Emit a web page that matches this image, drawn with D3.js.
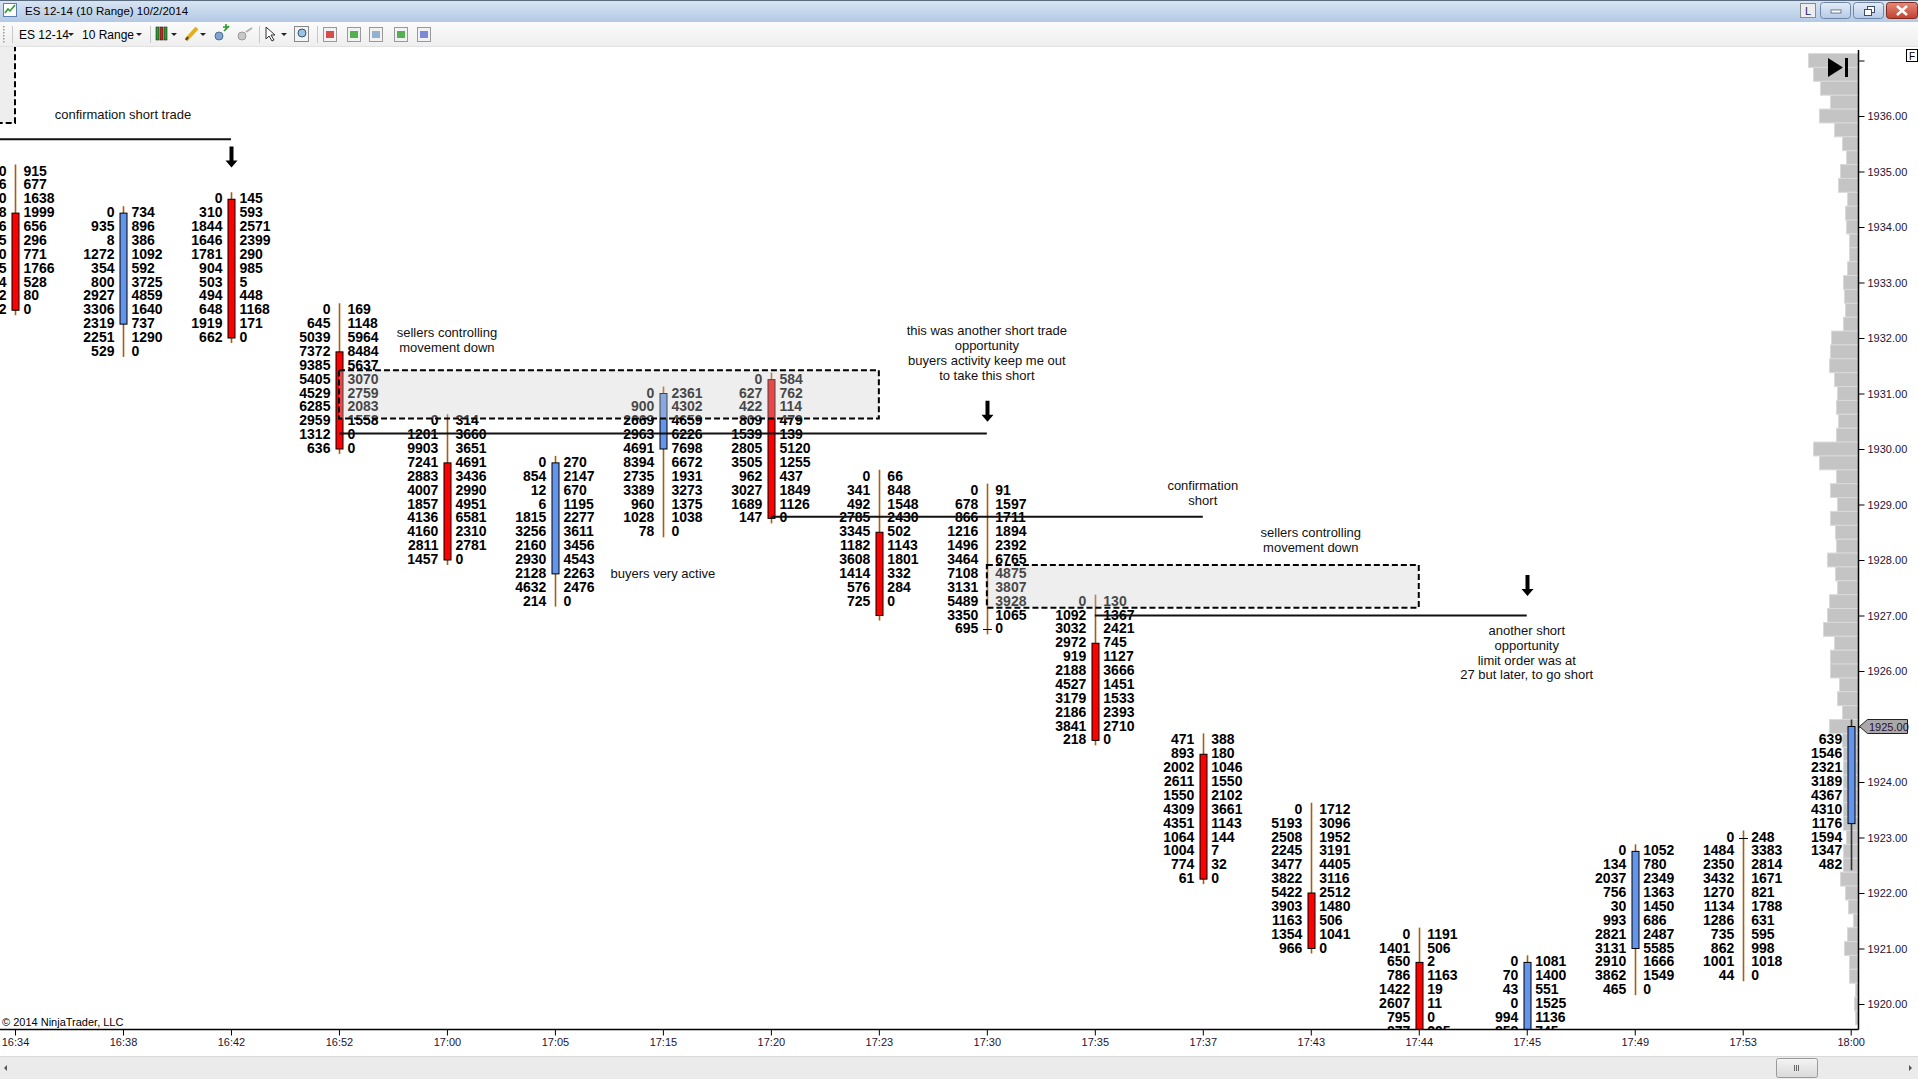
<!DOCTYPE html>
<html>
<head>
<meta charset="utf-8">
<title>ES 12-14 (10 Range) 10/2/2014</title>
<script src="https://cdn.jsdelivr.net/npm/d3@7"></script>
<style>
html, body { margin: 0; padding: 0; background: #fff; overflow: hidden; }
svg { display: block; font-family: "Liberation Sans", Arial, sans-serif; }
.num { font-size: 14px; font-weight: bold; fill: #000; }
.note { font-size: 13px; fill: #111; }
.xAxis text, .yAxis text { font-size: 11px; fill: #1f1233; font-family: "Liberation Sans", Arial, sans-serif; }
.xAxis line, .yAxis line { stroke: #000; }
</style>
</head>
<body>
<div id="chart"></div>
<script>
var WIDTH = 1918, HEIGHT = 1079;
var PLOT = {left: 0, right: 1858.5, top: 47, bottom: 1029.5};
var TICK = 0.25;

/* Bars (10 range, one tick = 0.25) */
var times  = ["16:34","16:38","16:42","16:52","17:00","17:05","17:15","17:20","17:23",
              "17:30","17:35","17:37","17:43","17:44","17:45","17:49","17:53","18:00"];
var highs  = [1935.00, 1934.25, 1934.50, 1932.50, 1930.50, 1929.75, 1931.00, 1931.25, 1929.50,
              1929.25, 1927.25, 1924.75, 1923.50, 1921.25, 1920.75, 1922.75, 1923.00, 1925.00];
var lows   = [1932.50, 1931.75, 1932.00, 1930.00, 1928.00, 1927.25, 1928.50, 1928.75, 1927.00,
              1926.75, 1924.75, 1922.25, 1921.00, 1918.75, 1918.25, 1920.25, 1920.50, 1922.50];
var opens  = [1934.25, 1932.25, 1934.50, 1931.75, 1929.75, 1927.75, 1930.00, 1931.25, 1928.50,
              1926.75, 1926.50, 1924.50, 1922.00, 1920.75, 1919.00, 1921.00, 1923.00, 1923.25];
var closes = [1932.50, 1934.25, 1932.00, 1930.00, 1928.00, 1929.75, 1931.00, 1928.75, 1927.00,
              1926.75, 1924.75, 1922.25, 1921.00, 1919.25, 1920.75, 1922.75, 1923.00, 1925.00];

/* Footprint volumes, one row per tick from the high downwards */
var bids = [
    [0, 1046, 2310, 1768, 856, 1235, 940, 1875, 1224, 612, 382],
    [0, 935, 8, 1272, 354, 800, 2927, 3306, 2319, 2251, 529],
    [0, 310, 1844, 1646, 1781, 904, 503, 494, 648, 1919, 662],
    [0, 645, 5039, 7372, 9385, 5405, 4529, 6285, 2959, 1312, 636],
    [0, 1201, 9903, 7241, 2883, 4007, 1857, 4136, 4160, 2811, 1457],
    [0, 854, 12, 6, 1815, 3256, 2160, 2930, 2128, 4632, 214],
    [0, 900, 2669, 2963, 4691, 8394, 2735, 3389, 960, 1028, 78],
    [0, 627, 422, 809, 1539, 2805, 3505, 962, 3027, 1689, 147],
    [0, 341, 492, 2785, 3345, 1182, 3608, 1414, 576, 725],
    [0, 678, 866, 1216, 1496, 3464, 7108, 3131, 5489, 3350, 695],
    [0, 1092, 3032, 2972, 919, 2188, 4527, 3179, 2186, 3841, 218],
    [471, 893, 2002, 2611, 1550, 4309, 4351, 1064, 1004, 774, 61],
    [0, 5193, 2508, 2245, 3477, 3822, 5422, 3903, 1163, 1354, 966],
    [0, 1401, 650, 786, 1422, 2607, 795, 877],
    [0, 70, 43, 0, 994, 858],
    [0, 134, 2037, 756, 30, 993, 2821, 3131, 2910, 3862, 465],
    [0, 1484, 2350, 3432, 1270, 1134, 1286, 735, 862, 1001, 44],
    [null, 639, 1546, 2321, 3189, 4367, 4310, 1176, 1594, 1347, 482]
];
var asks = [
    [915, 677, 1638, 1999, 656, 296, 771, 1766, 528, 80, 0],
    [734, 896, 386, 1092, 592, 3725, 4859, 1640, 737, 1290, 0],
    [145, 593, 2571, 2399, 290, 985, 5, 448, 1168, 171, 0],
    [169, 1148, 5964, 8484, 5637, 3070, 2759, 2083, 1558, 0, 0],
    [314, 3660, 3651, 4691, 3436, 2990, 4951, 6581, 2310, 2781, 0],
    [270, 2147, 670, 1195, 2277, 3611, 3456, 4543, 2263, 2476, 0],
    [2361, 4302, 4659, 6226, 7698, 6672, 1931, 3273, 1375, 1038, 0],
    [584, 762, 114, 479, 139, 5120, 1255, 437, 1849, 1126, 0],
    [66, 848, 1548, 2430, 502, 1143, 1801, 332, 284, 0],
    [91, 1597, 1711, 1894, 2392, 6765, 4875, 3807, 3928, 1065, 0],
    [130, 1367, 2421, 745, 1127, 3666, 1451, 1533, 2393, 2710, 0],
    [388, 180, 1046, 1550, 2102, 3661, 1143, 144, 7, 32, 0],
    [1712, 3096, 1952, 3191, 4405, 3116, 2512, 1480, 506, 1041, 0],
    [1191, 506, 2, 1163, 19, 11, 0, 295],
    [1081, 1400, 551, 1525, 1136, 745],
    [1052, 780, 2349, 1363, 1450, 686, 2487, 5585, 1666, 1549, 0],
    [248, 3383, 2814, 1671, 821, 1788, 631, 595, 998, 1018, 0],
    []
];

/* Volume profile (relative), one row per tick from profileTop downwards */
var profileTop = 1937.00;
var profileVol = [50, 45, 38, 28, 39, 24, 16, 12, 18, 20, 11, 13, 12, 9, 9, 11, 15, 14, 13, 15,
                  27, 28, 29, 24, 21, 22, 20, 22, 45, 39, 22, 28, 21, 28, 23, 22, 31, 23, 21, 29,
                  31, 35, 24, 28, 28, 19, 21, 16, 29, 16, 15, 15, 15, 15, 15, 15, 12, 15, 15, 18,
                  13, 10, 5, 11, 14, 9, 9, 3, 4, 3];

/* Price axis */
var priceTicks = d3.range(1920, 1938);
var lastPrice = 1925.00;

/* Drawn annotations (slot index on the time axis, price) */
var lineSlots   = [[-1, 2], [3, 9], [7, 11], [10, 14]];
var linePrices  = [1935.58, 1930.28, 1928.78, 1927.00];
var boxSlots    = [[-2, 0], [3, 8], [9, 13]];
var boxPrices   = [[1937.6, 1935.875], [1931.42, 1930.55], [1927.91, 1927.14]];
var arrowSlots  = [2, 9, 14];
var arrowPrices = [1935.07, 1930.49, 1927.35];
var noteSlots   = [1, 4, 9, 6, 11, 12, 14];
var notePrices  = [1936.03, 1932.10, 1932.13, 1927.76, 1929.34, 1928.49, 1926.73];
var noteLines   = [
    ["confirmation short trade"],
    ["sellers controlling", "movement down"],
    ["this was another short trade", "opportunity", "buyers activity keep me out", "to take this short"],
    ["buyers very active"],
    ["confirmation", "short"],
    ["sellers controlling", "movement down"],
    ["another short", "opportunity", "limit order was at", "27 but later, to go short"]
];

/* SVG */
var svg = d3.select("#chart")
    .append("svg")
        .attr("width", WIDTH)
        .attr("height", HEIGHT);
var defs = svg.append("defs");

function grad(id, c1, c2){
    var g = defs.append("linearGradient").attr("id", id)
        .attr("x1", 0).attr("y1", 0).attr("x2", 0).attr("y2", 1);
    g.append("stop").attr("offset", "0%").attr("stop-color", c1);
    g.append("stop").attr("offset", "100%").attr("stop-color", c2);
}
grad("gTitle", "#D9E5F3", "#B3C9E5");
grad("gTool", "#FBFBFB", "#EEEEEE");
grad("gBtn", "#E4EDF8", "#B4C9E4");
grad("gClose", "#E58A7A", "#C2412F");
grad("gThumb", "#F4F4F4", "#D9D9D9");

defs.append("clipPath").attr("id", "plotClip")
    .append("rect")
        .attr("x", PLOT.left).attr("y", PLOT.top)
        .attr("width", PLOT.right - PLOT.left).attr("height", PLOT.bottom - PLOT.top);

/* Scales */
var x = d3.scalePoint()
    .domain(times)
    .range([15, 1850.7]);
function slotX(i){ return x(times[0]) + i * x.step(); }
var y = d3.scaleLinear()
    .domain([1920, 1936])
    .range([1004, 116]);
var rowH = Math.abs(y(1920) - y(1920 + TICK));
var vol = d3.scaleLinear()
    .domain([0, 50])
    .range([0, 50]);

/* Window chrome */
svg.append("rect").attr("x", 0).attr("y", 0).attr("width", WIDTH).attr("height", 22)
    .attr("fill", "url(#gTitle)");
svg.append("line").attr("x1", 0).attr("x2", WIDTH).attr("y1", 0.5).attr("y2", 0.5)
    .attr("stroke", "#5a6b80");
svg.append("rect").attr("x", 3.5).attr("y", 3.5).attr("width", 13).attr("height", 13)
    .attr("fill", "#fff").attr("stroke", "#5d7fb0");
svg.append("polyline").attr("points", "5,13 8,9 10,11 15,5")
    .attr("fill", "none").attr("stroke", "#2a9a2a").attr("stroke-width", 1.5);
svg.append("text").attr("x", 25).attr("y", 15)
    .style("font-size", "11.5px").attr("fill", "#000")
    .text("ES 12-14 (10 Range)  10/2/2014");

/* Window buttons */
svg.append("rect").attr("x", 1800.5).attr("y", 3.5).attr("width", 15).attr("height", 14)
    .attr("fill", "#EDEDED").attr("stroke", "#8a8a8a");
svg.append("text").attr("x", 1808).attr("y", 15).attr("text-anchor", "middle")
    .style("font-size", "11px").attr("fill", "#1a1a60").text("L");
[[1820.5, "min"], [1853.5, "max"]].forEach(function(b){
    svg.append("rect").attr("x", b[0]).attr("y", 2.5).attr("width", 30).attr("height", 16).attr("rx", 3)
        .attr("fill", "url(#gBtn)").attr("stroke", "#6f86a6");
});
svg.append("rect").attr("x", 1831).attr("y", 10).attr("width", 10).attr("height", 3)
    .attr("fill", "#fff").attr("stroke", "#3c4e66").attr("stroke-width", 0.7);
svg.append("rect").attr("x", 1867.5).attr("y", 6.5).attr("width", 7).attr("height", 6)
    .attr("fill", "#fff").attr("stroke", "#3c4e66");
svg.append("rect").attr("x", 1864.5).attr("y", 9.5).attr("width", 7).attr("height", 6)
    .attr("fill", "#fff").attr("stroke", "#3c4e66");
svg.append("rect").attr("x", 1886.5).attr("y", 2.5).attr("width", 31).attr("height", 16).attr("rx", 3)
    .attr("fill", "url(#gClose)").attr("stroke", "#7d2a20");
svg.append("path").attr("d", "M1897,6 L1907,15 M1907,6 L1897,15")
    .attr("stroke", "#fff").attr("stroke-width", 2.5);

/* Toolbar */
svg.append("rect").attr("x", 0).attr("y", 22).attr("width", WIDTH).attr("height", 24.5)
    .attr("fill", "url(#gTool)");
svg.append("line").attr("x1", 0).attr("x2", WIDTH).attr("y1", 46.5).attr("y2", 46.5)
    .attr("stroke", "#E2E2E2");
d3.range(6).forEach(function(k){
    svg.append("rect").attr("x", 3).attr("y", 26 + k * 3).attr("width", 1.5).attr("height", 1.5)
        .attr("fill", "#9a9a9a");
});
[12, 150, 259, 317].forEach(function(sx){
    svg.append("line").attr("x1", sx + 0.5).attr("x2", sx + 0.5).attr("y1", 26).attr("y2", 43)
        .attr("stroke", "#C8C8C8");
});
svg.append("text").attr("x", 19).attr("y", 38.5).style("font-size", "12px").attr("fill", "#000").text("ES 12-14");
svg.append("text").attr("x", 82).attr("y", 38.5).style("font-size", "12px").attr("fill", "#000").text("10 Range");
[71, 139, 174, 203, 284].forEach(function(sx){
    svg.append("path").attr("d", "M" + (sx - 3) + ",33 L" + (sx + 3) + ",33 L" + sx + ",36 Z").attr("fill", "#222");
});
/* toolbar icons (simplified) */
[[156, "#2aa02a"], [160, "#d02020"], [164, "#2aa02a"]].forEach(function(c){
    svg.append("rect").attr("x", c[0]).attr("y", 27).attr("width", 3).attr("height", 13)
        .attr("fill", c[1]).attr("stroke", "#222").attr("stroke-width", 0.6);
});
svg.append("path").attr("d", "M186,40 L197,28").attr("stroke", "#e0b020").attr("stroke-width", 4);
svg.append("path").attr("d", "M186,40 L188,37").attr("stroke", "#444").attr("stroke-width", 2);
svg.append("circle").attr("cx", 219).attr("cy", 36).attr("r", 4).attr("fill", "#7ea6d0").attr("stroke", "#4b6f95");
svg.append("path").attr("d", "M224,31 L229,26 M223,27 L229,27 M226,24 L226,30").attr("stroke", "#2aa02a").attr("stroke-width", 1.6);
svg.append("circle").attr("cx", 242).attr("cy", 36).attr("r", 4).attr("fill", "#c8c8c8").attr("stroke", "#9a9a9a");
svg.append("path").attr("d", "M246,32 L252,28").attr("stroke", "#b0b0b0").attr("stroke-width", 2);
svg.append("path").attr("d", "M266,27 L266,39 L269,36 L272,41 L274,40 L271,35 L275,35 Z")
    .attr("fill", "#fff").attr("stroke", "#333");
svg.append("rect").attr("x", 294.5).attr("y", 26.5).attr("width", 14).attr("height", 15).attr("fill", "#f4f4f4").attr("stroke", "#888");
svg.append("circle").attr("cx", 302).attr("cy", 33).attr("r", 4).attr("fill", "#9cc3e6").attr("stroke", "#356");
[[323, "#d02020"], [347, "#2aa02a"], [369, "#7aa0c8"], [394, "#2aa02a"], [417, "#5b6fd0"]].forEach(function(c){
    svg.append("rect").attr("x", c[0] + 0.5).attr("y", 27.5).attr("width", 13).attr("height", 14)
        .attr("fill", "#f2f2f2").attr("stroke", "#999");
    svg.append("rect").attr("x", c[0] + 3).attr("y", 31).attr("width", 8).attr("height", 7)
        .attr("fill", c[1]).attr("opacity", 0.8);
});

/* Plot background */
svg.append("rect").attr("x", 0).attr("y", 47).attr("width", WIDTH).attr("height", 1010)
    .attr("fill", "#fff");

var plot = svg.append("g").attr("clip-path", "url(#plotClip)");

/* Volume profile */
var profile = profileVol.map(function(v, k){ return {price: profileTop - k * TICK, v: v}; });
plot.selectAll(".prof")
    .data(profile)
    .enter()
    .append("rect")
        .attr("class", "prof")
        .attr("x", function(d) { return PLOT.right - vol(d.v); })
        .attr("y", function(d) { return y(d.price) - rowH / 2; })
        .attr("width", function(d) { return vol(d.v); })
        .attr("height", rowH)
        .attr("fill", "#C4C4C4")
        .attr("stroke", "#D9D9D9")
        .attr("stroke-width", 1);

/* Bars */
var bars = times.map(function(t, i){
    return {t: t, i: i, high: highs[i], low: lows[i], open: opens[i], close: closes[i]};
});

plot.selectAll(".wick")
    .data(bars)
    .enter()
    .append("line")
        .attr("class", "wick")
        .attr("x1", function(d) { return Math.round(x(d.t)) + 0.5; })
        .attr("x2", function(d) { return Math.round(x(d.t)) + 0.5; })
        .attr("y1", function(d) { return y(d.high) - 7; })
        .attr("y2", function(d) { return y(d.low) + 5; })
        .attr("stroke", function(d) { return d.i === times.length - 1 ? "#333" : "#B05A0A"; })
        .attr("stroke-width", 1.6);

plot.selectAll(".body")
    .data(bars.filter(function(d) { return d.open !== d.close; }))
    .enter()
    .append("rect")
        .attr("class", "body")
        .attr("x", function(d) { return Math.round(x(d.t)) - 3; })
        .attr("y", function(d) { return y(Math.max(d.open, d.close)); })
        .attr("width", 7)
        .attr("height", function(d) { return Math.abs(y(d.open) - y(d.close)); })
        .attr("fill", function(d) { return d.close > d.open ? "#6495ED" : "#FF0000"; })
        .attr("stroke", "#000")
        .attr("stroke-width", 1);

plot.selectAll(".doji")
    .data(bars.filter(function(d) { return d.open === d.close; }))
    .enter()
    .append("line")
        .attr("class", "doji")
        .attr("x1", function(d) { return Math.round(x(d.t)) - 4; })
        .attr("x2", function(d) { return Math.round(x(d.t)) + 5; })
        .attr("y1", function(d) { return Math.round(y(d.open)) + 0.5; })
        .attr("y2", function(d) { return Math.round(y(d.open)) + 0.5; })
        .attr("stroke", "#000")
        .attr("stroke-width", 1);

/* Footprint numbers */
var cells = [];
bars.forEach(function(b){
    var n = Math.max(bids[b.i].length, asks[b.i].length);
    for (var j = 0; j < n; j++) {
        cells.push({t: b.t, price: b.high - j * TICK, bid: bids[b.i][j], ask: asks[b.i][j]});
    }
});
plot.selectAll(".bid")
    .data(cells.filter(function(d) { return d.bid !== null && d.bid !== undefined; }))
    .enter()
    .append("text")
        .attr("class", "num bid")
        .attr("x", function(d) { return x(d.t) - 8.5; })
        .attr("y", function(d) { return y(d.price) + 4; })
        .attr("text-anchor", "end")
        .text(function(d) { return d.bid; });
plot.selectAll(".ask")
    .data(cells.filter(function(d) { return d.ask !== null && d.ask !== undefined; }))
    .enter()
    .append("text")
        .attr("class", "num ask")
        .attr("x", function(d) { return x(d.t) + 8.5; })
        .attr("y", function(d) { return y(d.price) + 4; })
        .attr("text-anchor", "start")
        .text(function(d) { return d.ask; });

/* Annotation boxes */
plot.selectAll(".box")
    .data(boxSlots.map(function(s, k){ return {s: s, p: boxPrices[k]}; }))
    .enter()
    .append("rect")
        .attr("class", "box")
        .attr("x", function(d) { return slotX(d.s[0]); })
        .attr("y", function(d) { return y(d.p[0]); })
        .attr("width", function(d) { return slotX(d.s[1]) - slotX(d.s[0]); })
        .attr("height", function(d) { return y(d.p[1]) - y(d.p[0]); })
        .attr("fill", "rgba(205,205,205,0.34)")
        .attr("stroke", "#000")
        .attr("stroke-width", 2)
        .attr("stroke-dasharray", "6,3");

/* Annotation lines */
plot.selectAll(".hline")
    .data(lineSlots.map(function(s, k){ return {s: s, p: linePrices[k]}; }))
    .enter()
    .append("line")
        .attr("class", "hline")
        .attr("x1", function(d) { return slotX(d.s[0]); })
        .attr("x2", function(d) { return slotX(d.s[1]); })
        .attr("y1", function(d) { return y(d.p); })
        .attr("y2", function(d) { return y(d.p); })
        .attr("stroke", "#111")
        .attr("stroke-width", 2);

/* Arrows */
plot.selectAll(".arrow")
    .data(arrowSlots.map(function(s, k){ return {s: s, p: arrowPrices[k]}; }))
    .enter()
    .append("path")
        .attr("class", "arrow")
        .attr("d", function(d) {
            var ax = Math.round(slotX(d.s)) + 0.5, ty = y(d.p);
            return "M" + (ax - 2) + "," + (ty - 21) + " L" + (ax + 2) + "," + (ty - 21) +
                   " L" + (ax + 2) + "," + (ty - 7) + " L" + (ax + 6) + "," + (ty - 7) +
                   " L" + ax + "," + ty + " L" + (ax - 6) + "," + (ty - 7) +
                   " L" + (ax - 2) + "," + (ty - 7) + " Z";
        })
        .attr("fill", "#000");

/* Notes */
var notes = plot.selectAll(".noteg")
    .data(noteSlots.map(function(s, k){ return {s: s, p: notePrices[k], lines: noteLines[k]}; }))
    .enter()
    .append("text")
        .attr("class", "note")
        .attr("text-anchor", "middle")
        .attr("x", function(d) { return slotX(d.s); })
        .attr("y", function(d) { return y(d.p) + 4.5; });
notes.selectAll("tspan")
    .data(function(d) { return d.lines.map(function(l, k){ return {l: l, k: k, x: slotX(d.s)}; }); })
    .enter()
    .append("tspan")
        .attr("x", function(d) { return d.x; })
        .attr("dy", function(d) { return d.k === 0 ? 0 : 14.8; })
        .text(function(d) { return d.l; });

/* Copyright */
svg.append("text").attr("x", 2).attr("y", 1026)
    .style("font-size", "11px").attr("fill", "#000")
    .text("\u00A9 2014 NinjaTrader, LLC");

/* Axes */
var xAxis = d3.axisBottom(x).tickSize(6).tickSizeOuter(0);
var gx = svg.append("g")
    .attr("class", "xAxis")
    .attr("transform", "translate(0," + PLOT.bottom + ")")
    .call(xAxis);
gx.select(".domain").remove();
svg.append("line")
    .attr("x1", 0).attr("x2", PLOT.right)
    .attr("y1", PLOT.bottom).attr("y2", PLOT.bottom)
    .attr("stroke", "#000").attr("stroke-width", 1.5);

var yAxis = d3.axisRight(y)
    .tickValues(priceTicks)
    .tickSize(6)
    .tickFormat(function(d) { return (d > 1936 || d === lastPrice) ? "" : d3.format(".2f")(d); });
var gy = svg.append("g")
    .attr("class", "yAxis")
    .attr("transform", "translate(" + PLOT.right + ",0)")
    .call(yAxis);
gy.select(".domain").remove();
svg.append("line")
    .attr("x1", PLOT.right).attr("x2", PLOT.right)
    .attr("y1", 50).attr("y2", PLOT.bottom)
    .attr("stroke", "#000").attr("stroke-width", 1.5);

/* Last price marker */
var ly = y(lastPrice);
svg.append("path")
    .attr("d", "M" + (PLOT.right + 1) + "," + ly + " L" + (PLOT.right + 9) + "," + (ly - 7) +
               " L1907.5," + (ly - 7) + " L1907.5," + (ly + 7) + " L" + (PLOT.right + 9) + "," + (ly + 7) + " Z")
    .attr("fill", "#A9A9A9").attr("stroke", "#222");
svg.append("text").attr("x", 1869).attr("y", ly + 4)
    .style("font-size", "11px").attr("fill", "#2a0f3a")
    .text(d3.format(".2f")(lastPrice));

/* Go-to-end button and F box */
svg.append("path").attr("d", "M1828,58 L1843,67.5 L1828,77 Z").attr("fill", "#000");
svg.append("rect").attr("x", 1845).attr("y", 58).attr("width", 3).attr("height", 19).attr("fill", "#000");
svg.append("rect").attr("x", 1906.5).attr("y", 49.5).attr("width", 11).attr("height", 12)
    .attr("fill", "#fff").attr("stroke", "#000");
svg.append("text").attr("x", 1912).attr("y", 59.5).attr("text-anchor", "middle")
    .style("font-size", "10px").attr("fill", "#000").text("F");

/* Scroll bar */
svg.append("rect").attr("x", 0).attr("y", 1057).attr("width", WIDTH).attr("height", 22)
    .attr("fill", "#EBEBEB");
svg.append("line").attr("x1", 0).attr("x2", WIDTH).attr("y1", 1056.5).attr("y2", 1056.5)
    .attr("stroke", "#DADADA");
svg.append("path").attr("d", "M4,1068 L7,1065 L7,1071 Z").attr("fill", "#555");
svg.append("path").attr("d", "M1912,1068 L1909,1065 L1909,1071 Z").attr("fill", "#555");
svg.append("rect").attr("x", 1776.5).attr("y", 1058.5).attr("width", 41).attr("height", 19).attr("rx", 2)
    .attr("fill", "url(#gThumb)").attr("stroke", "#9a9a9a");
[1794, 1796, 1798].forEach(function(sx){
    svg.append("line").attr("x1", sx + 0.5).attr("x2", sx + 0.5).attr("y1", 1065).attr("y2", 1071)
        .attr("stroke", "#666");
});
</script>
</body>
</html>
